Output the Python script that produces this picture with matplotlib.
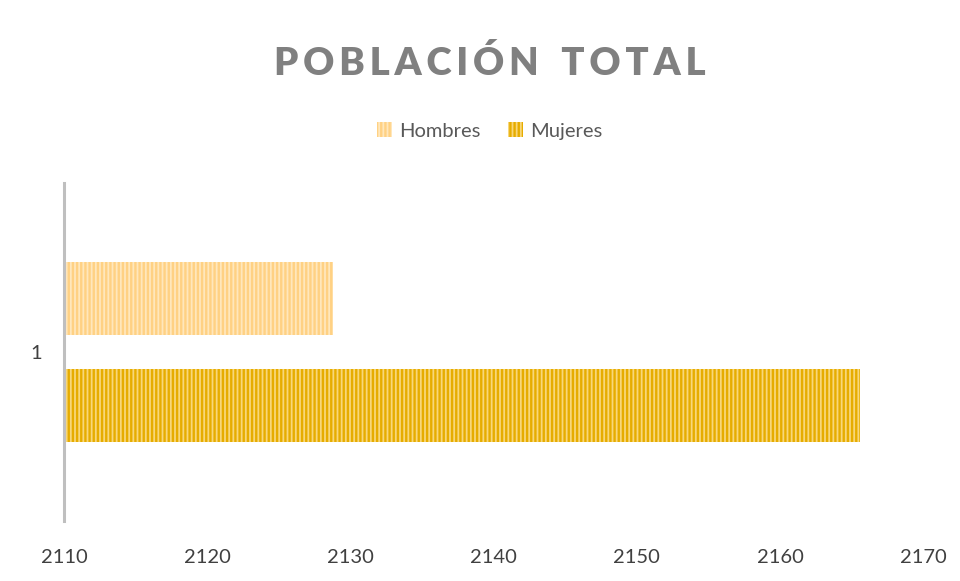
import matplotlib.pyplot as plt
from matplotlib.patches import Patch

plt.rcParams['font.family'] = ['Lato', 'DejaVu Sans']
plt.rcParams['hatch.linewidth'] = 1.7

categories = ['1']
series = ['Hombres', 'Mujeres']
hombres = [2128.8]
mujeres = [2165.6]
xticks = [2110, 2120, 2130, 2140, 2150, 2160, 2170]

face = {'Hombres': '#FFE7BC', 'Mujeres': '#F8D77A'}
stripe = {'Hombres': '#FFD183', 'Mujeres': '#E6AC00'}

fig = plt.figure(figsize=(9.6, 5.81), dpi=100)
ax = fig.add_axes([0.0667, 0.103, 0.895, 0.582])

base = xticks[0]
h = 0.216
off = 0.158
for name, vals, dy in [('Hombres', hombres, off), ('Mujeres', mujeres, -off)]:
    ax.barh([i + dy for i in range(len(categories))], [v - base for v in vals],
            left=base, height=h, color=face[name], edgecolor=stripe[name],
            hatch='||||', linewidth=0)

ax.set_xlim(xticks[0], xticks[-1])
ax.set_ylim(-0.5, 0.5)
ax.set_xticks(xticks)
ax.set_yticks(range(len(categories)))
ax.set_yticklabels(categories)
ax.tick_params(length=0, labelsize=14.5, colors='#404040')
ax.tick_params(axis='x', pad=20)
ax.tick_params(axis='y', pad=16)
for s in ['top', 'right', 'bottom']:
    ax.spines[s].set_visible(False)
ax.spines['left'].set_color('#BFBFBF')
ax.spines['left'].set_linewidth(2.2)

sp = '\u2009'
title = sp.join('POBLACIÓN') + sp + '  ' + sp.join('TOTAL')
fig.text(0.510, 1 - 75 / 581, title,
         ha='center', va='baseline', fontsize=27.5, fontweight='heavy', color='#808080',
         family=['Lato', 'DejaVu Sans'])

handles = [Patch(facecolor=face[n], edgecolor=stripe[n], hatch='||||', linewidth=0) for n in series]
fig.legend(handles, series, loc='center', bbox_to_anchor=(0.51, 1 - 131 / 581), ncol=2, frameon=False,
           fontsize=14.5, handlelength=0.75, handleheight=0.75, handletextpad=0.35,
           columnspacing=1.4, labelcolor='#595959')

fig.savefig('out.png', dpi=100, facecolor='white')
